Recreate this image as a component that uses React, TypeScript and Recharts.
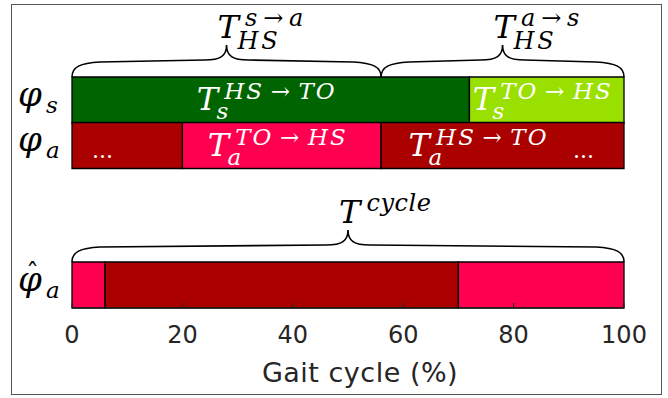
import React from 'react';
import { BarChart, Bar, XAxis, YAxis, Cell, LabelList, ReferenceArea } from 'recharts';

// rows of the upper panel (sound leg, assisted leg) and lower panel (estimate)
const topRowNames = ['φ_s', 'φ_a'];
const topPhase1 = [72, 20];
const topPhase2 = [28, 36];
const topPhase3 = [0, 44];

const bottomRowNames = ['φ̂_a'];
const bottomPhase1 = [6];
const bottomPhase2 = [64];
const bottomPhase3 = [30];

const xTicks = [0, 20, 40, 60, 80, 100];

// braces over the upper panel: [from, to], superscript, subscript
const topBraceFrom = [0, 56];
const topBraceTo = [56, 100];
const topBraceSup = ['s\u2009→\u2009a', 'a\u2009→\u2009s'];
const topBraceSub = ['HS', 'HS'];
const cycleBraceFrom = 0;
const cycleBraceTo = 100;

// labels inside the segments (per phase, per row)
const phase1Labels = [{ sub: 's', sup: 'HS\u2009→\u2009TO' }, { dots: 'lead' }];
const phase2Labels = [{ sub: 's', sup: 'TO\u2009→\u2009HS' }, { sub: 'a', sup: 'TO\u2009→\u2009HS' }];
const phase3Labels = [null, { sub: 'a', sup: 'HS\u2009→\u2009TO', dots: 'trail' }];

const DARK_GREEN = '#006400';
const LIGHT_GREEN = '#99E000';
const DARK_RED = '#AA0000';
const PINK = '#FF0050';

const topColors = [
  [DARK_GREEN, DARK_RED],
  [LIGHT_GREEN, PINK],
  [LIGHT_GREEN, DARK_RED],
];
const bottomColors = [[PINK], [DARK_RED], [PINK]];

const MATH_FONT = "'DejaVu Serif', serif";
const AXIS_FONT = "'DejaVu Sans', sans-serif";
const AXIS_COLOR = '#262626';
const TICK_MARGIN = 18;

const topData = topRowNames.map((name, i) => ({
  name,
  p1: topPhase1[i],
  p2: topPhase2[i],
  p3: topPhase3[i],
  l1: phase1Labels[i],
  l2: phase2Labels[i],
  l3: phase3Labels[i],
}));
const bottomData = bottomRowNames.map((name, i) => ({
  name,
  p1: bottomPhase1[i],
  p2: bottomPhase2[i],
  p3: bottomPhase3[i],
}));

const italic: React.CSSProperties = { fontFamily: MATH_FONT, fontStyle: 'italic' };
const upright: React.CSSProperties = { fontFamily: MATH_FONT, fontStyle: 'normal' };

// T with super- and subscript, roughly like LaTeX
const MathT = ({ x, baseline, size, script, sup, sub, supRise, subDrop, supSpacing, subSpacing, fill }: any) => (
  <g fill={fill}>
    <text x={x} y={baseline} fontSize={size} style={italic}>T</text>
    {sup && (
      <text x={x + size * 0.86} y={baseline - supRise} fontSize={script} letterSpacing={supSpacing} style={italic}>
        {sup}
      </text>
    )}
    {sub && (
      <text x={x + size * 0.62} y={baseline + subDrop} fontSize={script} letterSpacing={subSpacing} style={italic}>
        {sub}
      </text>
    )}
  </g>
);

const bracePath = (x1: number, x2: number, yb: number) => {
  const xc = (x1 + x2) / 2;
  return (
    `M${x1},${yb} C${x1},${yb - 10} ${x1 + 8},${yb - 14} ${x1 + 28},${yb - 15} ` +
    `L${xc - 22},${yb - 17} C${xc - 6},${yb - 17} ${xc},${yb - 21} ${xc},${yb - 32} ` +
    `C${xc},${yb - 21} ${xc + 6},${yb - 17} ${xc + 22},${yb - 17} ` +
    `L${x2 - 28},${yb - 15} C${x2 - 8},${yb - 14} ${x2},${yb - 10} ${x2},${yb}`
  );
};

const braceShape = (sup: string, sub?: string) => (props: any) => {
  const { x, y, width } = props;
  const xc = x + width / 2;
  return (
    <g>
      <path d={bracePath(x, x + width, y)} fill="none" stroke="#000" strokeWidth={1.6} />
      <MathT
        x={xc - 9}
        baseline={y - 39}
        size={32}
        script={24}
        sup={sup}
        sub={sub}
        supRise={12}
        subDrop={11}
        supSpacing={0.5}
        subSpacing={3}
        fill="#000"
      />
    </g>
  );
};

const segLabel = (props: any) => {
  const vb = props.viewBox ?? props;
  const { x, y, width, height } = vb;
  const lab = props.value;
  if (!lab || typeof lab !== 'object' || !width) return null;
  const cy = y + height / 2;
  const cx = x + width / 2;
  const parts: any[] = [];
  if (lab.dots === 'lead') {
    parts.push(
      <text key="d" x={x + 20} y={y + height - 11} fill="#fff" fontSize={22} style={upright}>
        ...
      </text>
    );
  }
  if (lab.dots === 'trail') {
    parts.push(
      <text key="d" x={x + width - 30} y={y + height - 11} fill="#fff" fontSize={22} textAnchor="end" style={upright}>
        ...
      </text>
    );
  }
  if (lab.sup) {
    const shift = lab.dots === 'trail' ? 20 : 0;
    parts.push(
      <MathT
        key="t"
        x={cx - 74 - shift}
        baseline={cy + 10}
        size={32}
        script={23}
        sup={lab.sup}
        sub={lab.sub}
        supRise={11}
        subDrop={9}
        supSpacing={2}
        subSpacing={1}
        fill="#fff"
      />
    );
  }
  return <g>{parts}</g>;
};

const PhiTick = (props: any) => {
  const { x, y, payload } = props;
  const [base, sub] = String(payload.value).split('_');
  const hat = base.includes('\u0302');
  const left = x - 46;
  return (
    <g fill="#000">
      <text x={left} y={y + 6} fontSize={34} style={italic}>φ</text>
      {hat && (
        <text x={left + 8} y={y - 3} fontSize={26} style={upright}>ˆ</text>
      )}
      <text x={left + 28} y={y + 13} fontSize={23} style={italic}>{sub}</text>
    </g>
  );
};

const InnerTick = (props: any) => {
  const { x, y } = props;
  return <line x1={x} x2={x} y1={y} y2={y - 5} stroke={AXIS_COLOR} strokeWidth={1} />;
};

const LabelTick = (props: any) => {
  const { x, y, payload } = props;
  const axisY = y - TICK_MARGIN;
  return (
    <g>
      <line x1={x} x2={x} y1={axisY} y2={axisY - 5} stroke={AXIS_COLOR} strokeWidth={1} />
      <text x={x} y={y} dy="0.71em" textAnchor="middle" fill={AXIS_COLOR} fontSize={24} style={{ fontFamily: AXIS_FONT }}>
        {payload.value}
      </text>
    </g>
  );
};

const App: React.FC = () => {
  return (
    <div style={{ position: 'absolute', left: 0, top: 0, width: 668, height: 398, background: '#fff' }}>
      <div
        style={{
          position: 'absolute',
          left: 11,
          top: 4,
          width: 649,
          height: 389,
          border: '1px solid #555',
        }}
      />

      {/* upper panel: sound and assisted leg phases */}
      <div style={{ position: 'absolute', left: 0, top: 0 }}>
        <BarChart
          width={668}
          height={172}
          data={topData}
          layout="vertical"
          barCategoryGap={0}
          barGap={0}
          margin={{ top: 77, right: 44, bottom: 4, left: 12 }}
        >
          <YAxis type="category" dataKey="name" width={60} tickLine={false} axisLine={false} tickSize={0} tickMargin={8} tick={<PhiTick />} />
          {[topPhase1, topPhase2, topPhase3].map((_, k) => (
            <Bar key={k} dataKey={`p${k + 1}`} stackId="a" stroke="#000" strokeWidth={1.3} isAnimationActive={false}>
              {topData.map((_, i) => (
                <Cell key={i} fill={topColors[k][i]} />
              ))}
              <LabelList dataKey={`l${k + 1}`} content={segLabel} />
            </Bar>
          ))}
          <XAxis
            type="number"
            domain={[0, 100]}
            ticks={xTicks}
            height={0}
            tickSize={0}
            tickMargin={0}
            tickLine={false}
            stroke={AXIS_COLOR}
            tick={<InnerTick />}
          />
          {topBraceFrom.map((from, i) => (
            <ReferenceArea
              key={i}
              x1={from}
              x2={topBraceTo[i]}
              ifOverflow="visible"
              shape={braceShape(topBraceSup[i], topBraceSub[i])}
            />
          ))}
        </BarChart>
      </div>

      {/* lower panel: estimated phase */}
      <div style={{ position: 'absolute', left: 0, top: 180 }}>
        <BarChart
          width={668}
          height={218}
          data={bottomData}
          layout="vertical"
          barCategoryGap={0}
          barGap={0}
          margin={{ top: 82, right: 44, bottom: 10, left: 12 }}
        >
          <YAxis type="category" dataKey="name" width={60} tickLine={false} axisLine={false} tickSize={0} tickMargin={8} tick={<PhiTick />} />
          {[bottomPhase1, bottomPhase2, bottomPhase3].map((_, k) => (
            <Bar key={k} dataKey={`p${k + 1}`} stackId="a" stroke="#000" strokeWidth={1.3} isAnimationActive={false}>
              {bottomData.map((_, i) => (
                <Cell key={i} fill={bottomColors[k][i]} />
              ))}
            </Bar>
          ))}
          <XAxis
            type="number"
            domain={[0, 100]}
            ticks={xTicks}
            height={80}
            tickSize={0}
            tickMargin={TICK_MARGIN}
            tickLine={false}
            stroke={AXIS_COLOR}
            tick={<LabelTick />}
            label={{
              value: 'Gait cycle (%)',
              position: 'insideBottom',
              offset: 6,
              dx: 12,
              fill: AXIS_COLOR,
              fontSize: 27,
              letterSpacing: 0.5,
              style: { fontFamily: AXIS_FONT },
            }}
          />
          <ReferenceArea x1={cycleBraceFrom} x2={cycleBraceTo} ifOverflow="visible" shape={braceShape('cycle')} />
        </BarChart>
      </div>
    </div>
  );
};

export default App;
